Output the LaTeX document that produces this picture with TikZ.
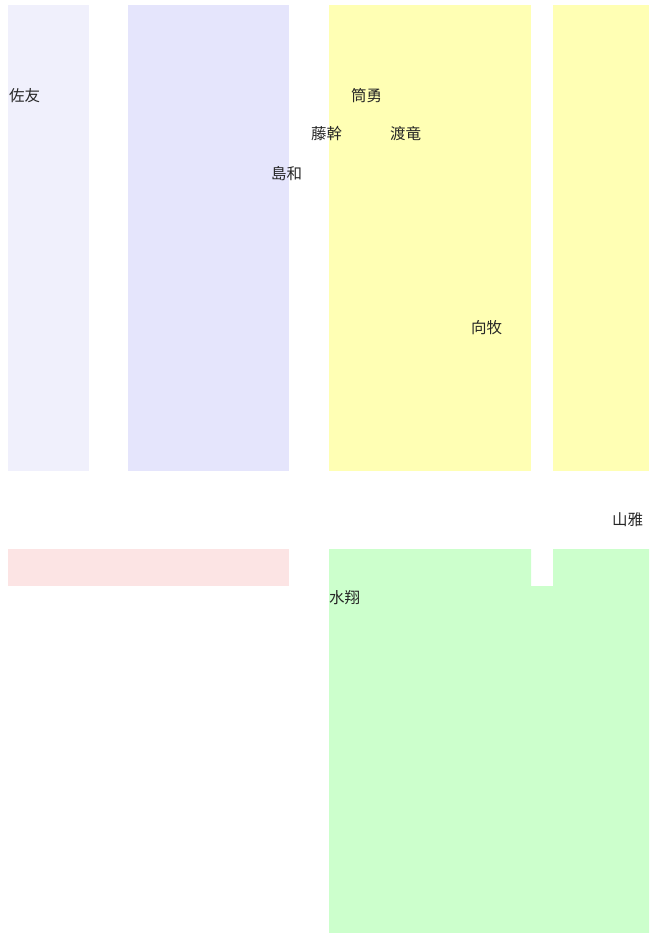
\documentclass[tikz,border=0pt]{standalone}
\usepackage{fontspec}
\newfontfamily\cjk{Noto Sans CJK SC}
\usepackage{tikz}
\usetikzlibrary{positioning}
\definecolor{paleblue}{HTML}{F0F0FC}
\definecolor{lavblue}{HTML}{E5E5FC}
\definecolor{paleyellow}{HTML}{FFFFB4}
\definecolor{palepink}{HTML}{FCE4E4}
\definecolor{palegreen}{HTML}{CCFFCC}
\tikzset{
  lbl/.style={anchor=west, inner sep=0pt, font=\cjk\fontsize{15.5}{18}\selectfont, text=black!85}
}

\begin{document}
\begin{tikzpicture}[x=1pt, y=-1pt]
\useasboundingbox (0,0) rectangle (649,933);
\fill [paleblue] (8,5) rectangle (89,471);
\fill [lavblue] (128,5) rectangle (289,471);
\fill [paleyellow] (329,5) rectangle (531,471);
\fill [paleyellow] (553,5) rectangle (649,471);
\fill [palepink] (8,549) rectangle (289,586);
\fill [palegreen] (329,549) -- (531,549) -- (531,586) -- (553,586) -- (553,549)
  -- (649,549) -- (649,933) -- (329,933) -- cycle;
\node[lbl] (zuoyou) at (9,96) {佐友};
\node[lbl] (tongyong) at (351,96) {筒勇};
\node[lbl] (tenggan) at (311,134) {藤幹};
\node[lbl] (dulong) at (390,134) {渡竜};
\node[lbl] (daohe) at (271,174) {島和};
\node[lbl] (xiangmu) at (471,328) {向牧};
\node[lbl] (shanya) at (612,520) {山雅};
\node[lbl] (shuixiang) at (329,598) {水翔};
\end{tikzpicture}
\end{document}
